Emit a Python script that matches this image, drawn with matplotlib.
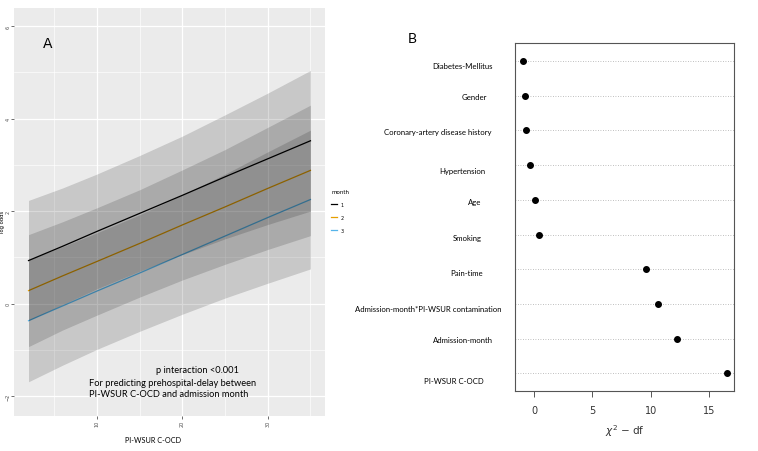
import matplotlib
matplotlib.use('Agg')
from matplotlib import pyplot as plt

# ---- panel A: predicted log odds by month ----
x_grid = [2, 6, 10, 15, 20, 25, 30, 35]
m1_fit = [0.93, 1.24, 1.56, 1.95, 2.34, 2.74, 3.13, 3.52]
m1_hi = [2.23, 2.50, 2.80, 3.20, 3.62, 4.08, 4.55, 5.04]
m1_lo = [-0.37, -0.02, 0.32, 0.70, 1.06, 1.40, 1.71, 2.00]
m2_fit = [0.28, 0.60, 0.91, 1.30, 1.70, 2.09, 2.49, 2.88]
m2_hi = [1.49, 1.77, 2.07, 2.46, 2.89, 3.33, 3.81, 4.29]
m2_lo = [-0.93, -0.57, -0.25, 0.14, 0.51, 0.85, 1.17, 1.47]
m3_fit = [-0.37, -0.05, 0.27, 0.66, 1.06, 1.46, 1.86, 2.25]
m3_hi = [0.95, 1.23, 1.53, 1.92, 2.35, 2.80, 3.28, 3.75]
m3_lo = [-1.69, -1.33, -0.99, -0.60, -0.23, 0.12, 0.44, 0.75]
months = ['1', '2', '3']
month_colors = ['#000000', '#E69F00', '#56B4E9']

# ---- panel B: chi-square minus df ----
terms = ['Diabetes-Mellitus', 'Gender', 'Coronary-artery disease history',
         'Hypertension', 'Age', 'Smoking', 'Pain-time',
         'Admission-month*PI-WSUR contamination', 'Admission-month',
         'PI-WSUR C-OCD']
chisq_df = [-0.94, -0.77, -0.66, -0.32, 0.11, 0.40, 9.6, 10.6, 12.25, 16.5]

W, H = 758, 452
fig = plt.figure(figsize=(W / 100, H / 100), dpi=100)
fig.patch.set_facecolor('white')
txtfont = ['Lato', 'DejaVu Sans']

def px(x, y):
    return x / W, 1 - y / H

# panel A
ax = fig.add_axes([14 / W, 1 - 417 / H, (325 - 14) / W, (417 - 9) / H])
ax.set_facecolor('#EBEBEB')
for s in ax.spines.values():
    s.set_visible(False)
fits = [m1_fit, m2_fit, m3_fit]
his = [m1_hi, m2_hi, m3_hi]
los = [m1_lo, m2_lo, m3_lo]
for i in range(3):
    ax.plot(x_grid, fits[i], color=month_colors[i], lw=0.9, zorder=2,
            label=months[i])
for i in range(3):
    ax.fill_between(x_grid, los[i], his[i], color='black', alpha=0.15,
                    lw=0, zorder=3)
ax.set_xlim(0.3, 36.7)
ax.set_ylim(-2.43, 6.39)
ax.set_xticks([10, 20, 30])
ax.set_yticks([-2, 0, 2, 4, 6])
ax.set_xticks([5, 15, 25, 35], minor=True)
ax.set_yticks([-1, 1, 3, 5], minor=True)
ax.grid(True, which='major', color='white', lw=0.9, zorder=0)
ax.grid(True, which='minor', color='white', lw=0.45, zorder=0)
ax.set_axisbelow(True)
ax.tick_params(which='major', length=2, width=0.5, color='#333333',
               labelsize=3.5, labelcolor='#4D4D4D', pad=0.5)
ax.tick_params(which='minor', length=0)
for lab in ax.get_yticklabels():
    lab.set_rotation(90)
    lab.set_va('center')
for lab in ax.get_xticklabels():
    lab.set_rotation(90)
fig.text(*px(2.5, 222), 'log odds', rotation=90, fontsize=3.8,
         ha='center', va='center')
fig.text(*px(153, 441), 'PI-WSUR C-OCD', fontsize=5.2, family=txtfont,
         ha='center', va='center')
fig.text(*px(48, 44), 'A', fontsize=10, ha='center', va='center')
fig.text(*px(197, 371), 'p interaction <0.001', fontsize=6.7,
         family=txtfont, ha='center', va='center')
fig.text(*px(89, 383), 'For predicting prehospital-delay between',
         fontsize=6.7, family=txtfont, ha='left', va='center')
fig.text(*px(89, 395), 'PI-WSUR C-OCD and admission month',
         fontsize=6.7, family=txtfont, ha='left', va='center')
leg = ax.legend(title='month', loc='upper left',
                bbox_to_anchor=px(327, 186), bbox_transform=fig.transFigure,
                frameon=False, fontsize=3.5, title_fontsize=4,
                handlelength=1.2, handletextpad=0.6, labelspacing=1.6)
leg._legend_box.align = 'left'

# panel B
bx = fig.add_axes([515 / W, 1 - 392 / H, (734 - 515) / W, (392 - 44) / H])
n = len(terms)
ypos = [n - i for i in range(n)]
bx.set_xlim(-1.62, 17.1)
bx.set_ylim(0.49, n + 0.52)
bx.hlines(ypos, -1.62, 17.1, colors='#AAAAAA', linestyles=(0, (1, 2)),
          lw=0.6, zorder=1)
bx.plot(chisq_df, ypos, 'o', color='black', ms=4, zorder=3)
bx.set_yticks([])
bx.set_xticks([0, 5, 10, 15])
bx.tick_params(axis='x', length=4, width=0.7, color='#555555',
               labelsize=7, labelcolor='#333333', pad=6)
for s in bx.spines.values():
    s.set_color('#555555')
    s.set_linewidth(0.8)
bx.set_xlabel(r'$\chi^2$ $-$ df', fontsize=7.5, color='#333333',
              labelpad=5)

label_x = [462, 474, 438, 462, 475, 467, 467, 428, 463, 454]
label_y = [67, 98, 133, 172, 203, 239, 273, 309, 341, 381]
for t, lx, ly in zip(terms, label_x, label_y):
    fig.text(*px(lx, ly), t, fontsize=5.6, family=txtfont,
             ha='center', va='center')
fig.text(*px(412, 39), 'B', fontsize=10, family=txtfont,
         ha='center', va='center')

fig.savefig('out.png', dpi=100)
